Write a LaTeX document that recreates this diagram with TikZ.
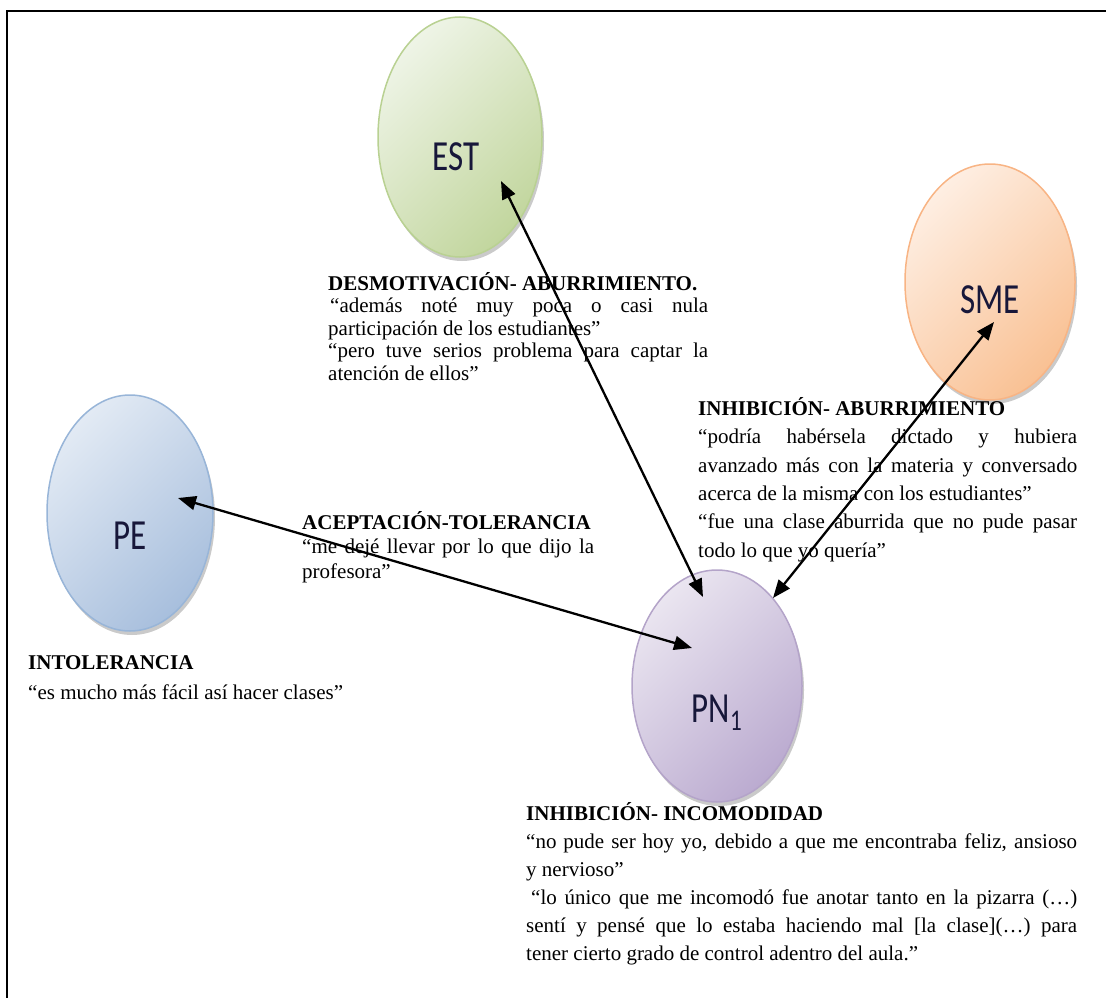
\documentclass[tikz,border=0pt]{standalone}
\usepackage{fontspec}
\setmainfont{Liberation Serif}
\newfontfamily\lblfont{Carlito}
\usetikzlibrary{shapes.geometric,shadows,arrows.meta}
\definecolor{estL}{HTML}{EEF4E6}
\definecolor{estD}{HTML}{C2D69E}
\definecolor{estB}{HTML}{B9D192}
\definecolor{smeL}{HTML}{FEEEE2}
\definecolor{smeD}{HTML}{F9C194}
\definecolor{smeB}{HTML}{F8B484}
\definecolor{peL}{HTML}{E2EAF4}
\definecolor{peD}{HTML}{A8BFDD}
\definecolor{peB}{HTML}{98B5D8}
\definecolor{pnL}{HTML}{EAE5F0}
\definecolor{pnD}{HTML}{BBABD0}
\definecolor{pnB}{HTML}{B4A4C9}
\definecolor{lblcol}{HTML}{17173A}
\tikzset{
  bubble/.style n args={3}{ellipse, inner sep=0pt, draw=#3, line width=1.5pt,
    left color=#1, right color=#2, shading angle=45,
    drop shadow={opacity=0.35, shadow xshift=2pt, shadow yshift=-4pt, fill=black!60}},
  lbl/.style={inner sep=0pt, text=lblcol, font=\lblfont\fontsize{33}{33}\selectfont},
  txt/.style={inner sep=0pt, anchor=north west, align=justify},
  dbl/.style={{Triangle[length=18pt,width=14pt]}-{Triangle[length=18pt,width=14pt]}, line width=2.3pt},
}
\begin{document}
\begin{tikzpicture}[x=1pt,y=-1pt]
\useasboundingbox (0,0) rectangle (1106,998);
\clip (0,0) rectangle (1106,998);
\draw[line width=2.4pt] (7,11) rectangle (1140,1030);

% bubbles
\node[bubble={estL}{estD}{estB}, minimum width=164pt, minimum height=240pt] (EST) at (460,137) {};
\node[bubble={smeL}{smeD}{smeB}, minimum width=170pt, minimum height=236pt] (SME) at (990,282) {};
\node[bubble={peL}{peD}{peB}, minimum width=166pt, minimum height=236pt] (PE) at (130,513) {};
\node[bubble={pnL}{pnD}{pnB}, minimum width=170pt, minimum height=232pt] (PN) at (717,686) {};

\node[lbl] (ESTl) at ([shift={(-4pt,-20pt)}]EST.center) {\scalebox{1}[1.3]{EST}};
\node[lbl] (SMEl) at ([yshift=-18pt]SME.center) {\scalebox{1}[1.3]{SME}};
\node[lbl] (PEl) at ([yshift=-23pt]PE.center) {\scalebox{1}[1.3]{PE}};
\node[lbl] (PNl) at ([yshift=-27pt]PN.center) {\scalebox{1}[1.3]{PN\textsubscript{1}}};

% texts
\node[txt, text width=380pt, font=\fontsize{21}{22.5}\selectfont] (tA) at (328,270)
{\rule{0pt}{20pt}\textbf{DESMOTIVACIÓN- ABURRIMIENTO.}\par
\hspace*{2pt}“además noté muy poca o casi nula\linebreak participación de los estudiantes”\par
“pero tuve serios problema para captar la\linebreak atención de ellos”};

\node[txt, text width=379pt, font=\fontsize{21}{28.4}\selectfont] (tB) at (698,395)
{\rule{0pt}{20pt}\textbf{INHIBICIÓN- ABURRIMIENTO}\par
“podría habérsela dictado y hubiera\linebreak avanzado más con la materia y conversado\linebreak acerca de la misma con los estudiantes”\par
“fue una clase aburrida que no pude pasar\linebreak todo lo que yo quería”};

\node[txt, text width=292pt, font=\fontsize{21}{24.5}\selectfont] (tC) at (302,509)
{\rule{0pt}{20pt}\textbf{ACEPTACIÓN-TOLERANCIA}\par
“me dejé llevar por lo que dijo la\linebreak profesora”};

\node[txt, text width=400pt, font=\fontsize{21}{30}\selectfont] (tD) at (28,649)
{\rule{0pt}{20pt}\textbf{INTOLERANCIA}\par
“es mucho más fácil así hacer clases”};

\node[txt, text width=551pt, font=\fontsize{21}{28}\selectfont] (tE) at (526,800)
{\rule{0pt}{20pt}\textbf{INHIBICIÓN- INCOMODIDAD}\par
“no pude ser hoy yo, debido a que me encontraba feliz, ansioso\linebreak y nervioso”\par
\hspace*{5pt}“lo único que me incomodó fue anotar tanto en la pizarra (…)\linebreak sentí y pensé que lo estaba haciendo mal [la clase](…) para\linebreak tener cierto grado de control adentro del aula.”};

% connectors
\coordinate (ESTp) at ([shift={(41,44)}]EST.center);
\coordinate (SMEp) at ([shift={(4,40)}]SME.center);
\coordinate (PEp) at ([shift={(48,-15)}]PE.center);
\coordinate (PNa) at ([shift={(-14,-89)}]PN.center);
\coordinate (PNb) at ([shift={(56,-88)}]PN.center);
\coordinate (PNc) at ([shift={(-25,-38)}]PN.center);
\draw[dbl] (ESTp) -- (PNa);
\draw[dbl] (SMEp) -- (PNb);
\draw[dbl] (PEp) -- (PNc);
\end{tikzpicture}
\end{document}
